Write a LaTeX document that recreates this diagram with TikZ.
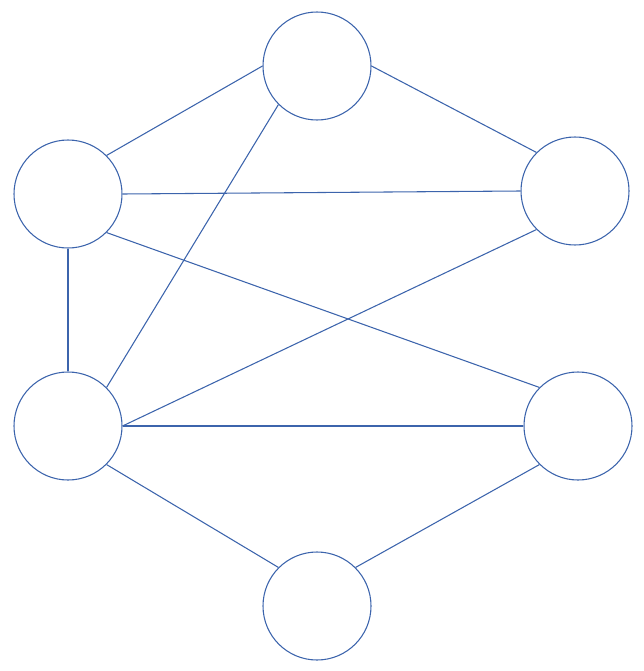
\documentclass[tikz,border=0pt]{standalone}
\usepackage{tikz}
\usetikzlibrary{positioning}
\definecolor{edgeblue}{RGB}{60,100,172}
\tikzset{vertex/.style={circle,draw=edgeblue,line width=0.8pt,minimum size=81pt,inner sep=0pt}}
\tikzset{link/.style={draw=edgeblue,line width=0.8pt}}

\begin{document}
\begin{tikzpicture}[x=0.75pt,y=-0.75pt]
\useasboundingbox (0,0) rectangle (643,671);
\node[vertex] (top) at (317,66) {};
\node[vertex] (lu) at (68,194) {};
\node[vertex] (ru) at (575,191) {};
\node[vertex] (ll) at (68,426) {};
\node[vertex] (rl) at (578,426) {};
\node[vertex] (bot) at (317,606) {};
%edges
\draw[link] (top.west) -- (lu.north east);
\draw[link] (top.east) -- (ru.north west);
\draw[link] (top.south west) -- (ll.north east);
\draw[link] (lu.east) -- (ru.west);
\draw[link] (lu.south) -- (ll.north);
\draw[link] (lu.south east) -- (rl.north west);
\draw[link] (ll.east) -- (ru.south west);
\draw[link] (ll.east) -- (rl.west);
\draw[link] (ll.south east) -- (bot.north west);
\draw[link] (rl.south west) -- (bot.north east);
\end{tikzpicture}
\end{document}
